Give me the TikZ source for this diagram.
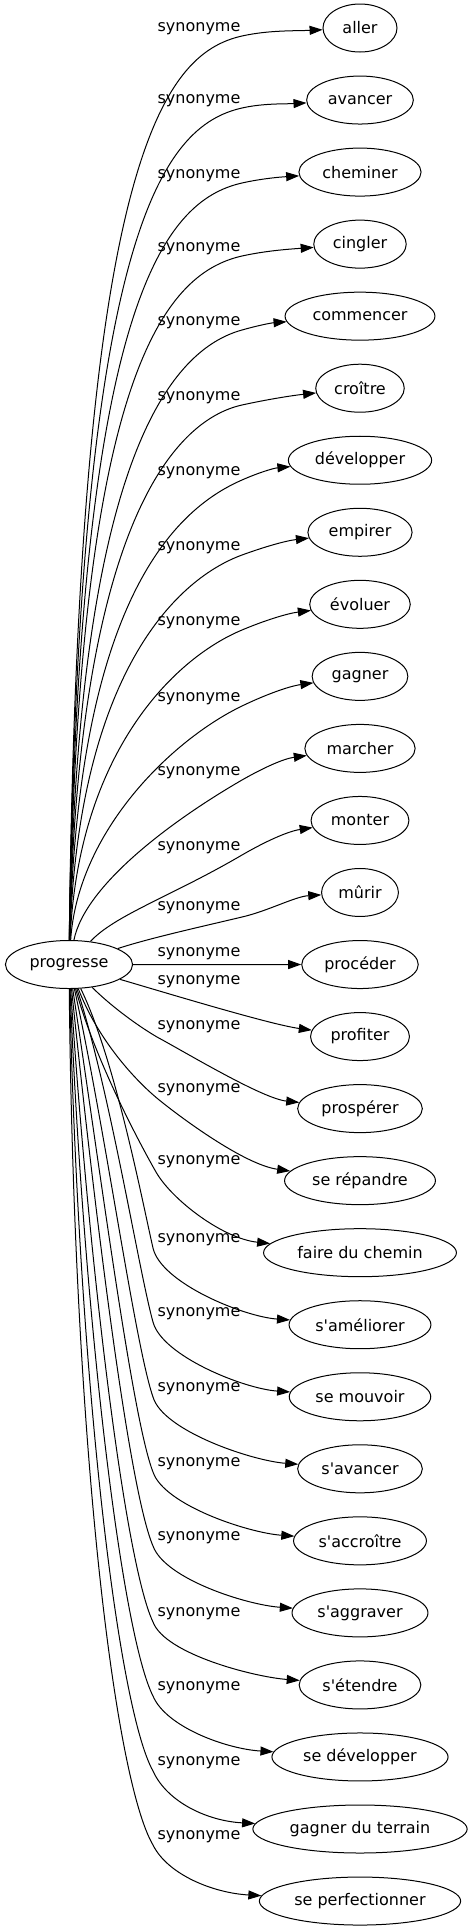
\documentclass[tikz,border=0pt]{standalone}
\usepackage{fontspec}
\setmainfont{DejaVu Sans}
\usetikzlibrary{calc, shapes.geometric, arrows.meta}

\begin{document}
\begin{tikzpicture}[
    x = 1pt, y = -1pt,
    font = \fontsize{16}{19}\selectfont,
    mot/.style = {draw, ellipse, line width = 1pt, inner xsep = 5.5pt, inner ysep = 2pt, minimum width = 74pt, minimum height = 48pt},
    syn/.style = {line width = 1pt, -{Triangle[length = 13pt, width = 9pt]}},
    lab/.style = {inner sep = 0pt},
]
\useasboundingbox (0,0) rectangle (469,1931);

\node[mot] (p) at (69,964.5) {progresse};

\foreach \nom/\txt [count = \i from 0] in {aller/aller, avancer/avancer, cheminer/cheminer, cingler/cingler, commencer/commencer, croitre/croître, developper/développer, empirer/empirer, evoluer/évoluer, gagner/gagner, marcher/marcher, monter/monter, murir/mûrir, proceder/procéder, profiter/profiter, prosperer/prospérer, repandre/se répandre, chemin/faire du chemin, ameliorer/s\textquotesingle améliorer, mouvoir/se mouvoir, savancer/s\textquotesingle avancer, accroitre/s\textquotesingle accroître, aggraver/s\textquotesingle aggraver, etendre/s\textquotesingle étendre, sedevelopper/se développer, terrain/gagner du terrain, perfectionner/se perfectionner}
    \node[mot] (\nom) at (360, {28 + 72.04*\i}) {\txt};

\foreach \ly [count = \i from 0] in {29, 101, 176, 249, 323, 398, 473, 548, 623, 699, 773, 848, 908, 954, 982, 1027, 1090, 1162, 1240, 1314, 1389, 1464, 1538, 1614, 1688, 1763, 1837}
    \node[lab] (l\i) at (199,\ly) {synonyme};

% upwards
\draw[syn] (p) .. controls (78,161) and (162,54) .. (242,36) .. controls (269,30) and ($(aller.west)+(-27,3)$) .. (aller);
\draw[syn] (p) .. controls (78,233) and (162,126) .. (242,108) .. controls (263,103.2) and ($(avancer.west)+(-21,4)$) .. (avancer);
\draw[syn] (p) .. controls (78,308) and (162,201) .. (242,183) .. controls (261,178.7) and ($(cheminer.west)+(-19,5)$) .. (cheminer);
\draw[syn] (p) .. controls (78,381) and (162,274) .. (242,256) .. controls (266,250.7) and ($(cingler.west)+(-24,5)$) .. (cingler);
\draw[syn] (p) .. controls (78,455) and (172,349.3) .. (242,330) .. controls (256,326) and ($(commencer.west)+(-14,6.8)$) .. (commencer);
\draw[syn] (p) .. controls (78,530) and (172,420.5) .. (242,405) .. controls (266,399.7) and ($(croitre.west)+(-24,7.4)$) .. (croitre);
\draw[syn] (p) .. controls (78,605) and (172,510.4) .. (242,480) .. controls (257,473.3) and ($(developper.west)+(-15,8)$) .. (developper);
\draw[syn] (p) .. controls (78,680) and (172,580.7) .. (242,555) .. controls (264,547) and ($(empirer.west)+(-22,8.5)$) .. (empirer);
\draw[syn] (p) .. controls (78,755) and (172,659.2) .. (242,630) .. controls (264,620.7) and ($(evoluer.west)+(-22,9.1)$) .. (evoluer);
\draw[syn] (p) .. controls (78,831) and (172,739.7) .. (242,706) .. controls (265,694.9) and ($(gagner.west)+(-23,9.9)$) .. (gagner);
\draw[syn] (p) .. controls (85,885) and (172,820.5) .. (242,780) .. controls (263,768) and ($(marcher.west)+(-21,10.3)$) .. (marcher);
\draw[syn] (p) .. controls (115,915) and (172,896) .. (242,855) .. controls (265,841.7) and ($(monter.west)+(-23,10.9)$) .. (monter);
\draw[syn] (p) .. controls (150,938) and (200,927) .. (242,917) .. controls (268,911) and ($(murir.west)+(-26,4)$) .. (murir);

\draw[syn] (p) -- (proceder);

% downwards
\draw[syn] (p) .. controls (160,991) and ($(profiter.west)+(-40,-12)$) .. (profiter);
\draw[syn] (p) .. controls (110,1005) and (135,1024) .. (157,1037) .. controls (185,1052) and ($(prosperer.west)+(-35,-10)$) .. (prosperer);
\draw[syn] (p) .. controls (98,1040) and (135,1080) .. (158,1099) .. controls (180,1117) and ($(repandre.west)+(-40,-16)$) .. (repandre);
\draw[syn] (p) .. controls (95,1060) and (140,1144) .. (156,1172) .. controls (172,1200) and ($(chemin.west)+(-40,-14)$) .. (chemin);
\draw[syn] (p) .. controls (115,1059) and (142,1200) .. (153,1248) .. controls (161,1283) and ($(ameliorer.west)+(-45,-8)$) .. (ameliorer);
\draw[syn] (p) .. controls (110,1090) and (139,1272) .. (153,1322) .. controls (162,1356) and ($(mouvoir.west)+(-45,-8)$) .. (mouvoir);
\draw[syn] (p) .. controls (105,1127) and (135,1345) .. (153,1397) .. controls (163,1431) and ($(savancer.west)+(-45,-8)$) .. (savancer);
\draw[syn] (p) .. controls (100,1168) and (132,1418) .. (153,1472) .. controls (164,1505) and ($(accroitre.west)+(-45,-8)$) .. (accroitre);
\draw[syn] (p) .. controls (95,1215) and (129,1490) .. (153,1546) .. controls (165,1579) and ($(aggraver.west)+(-45,-8)$) .. (aggraver);
\draw[syn] (p) .. controls (89,1267) and (125,1563) .. (153,1622) .. controls (165,1654) and ($(etendre.west)+(-45,-8)$) .. (etendre);
\draw[syn] (p) .. controls (84,1323) and (122,1635) .. (153,1696) .. controls (166,1727) and ($(sedevelopper.west)+(-45,-8)$) .. (sedevelopper);
\draw[syn] (p) .. controls (79,1385) and (118,1708) .. (153,1771) .. controls (167,1802) and ($(terrain.west)+(-45,-8)$) .. (terrain);
\draw[syn] (p) .. controls (74,1451) and (115,1780) .. (153,1845) .. controls (168,1875) and ($(perfectionner.west)+(-45,-8)$) .. (perfectionner);

\end{tikzpicture}
\end{document}
